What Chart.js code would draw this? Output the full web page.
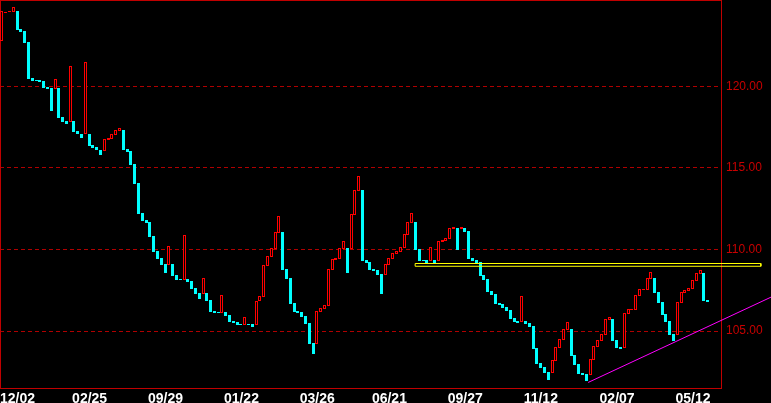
<!DOCTYPE html>
<html lang="en">
<head>
<meta charset="UTF-8">
<title>Price chart</title>
<style>
    * { margin: 0; padding: 0; box-sizing: border-box; }
    body { background: #000; width: 771px; height: 403px; overflow: hidden; }
    canvas { display: block; }
</style>
</head>
<body>
<canvas id="priceChart" width="771" height="403"></canvas>
<script src="https://cdn.jsdelivr.net/npm/chart.js"></script>
<script>
// open / close of every bar, left to right
const opens = [
    122.80, 124.52, 124.60, 124.57, 124.62, 123.51, 123.39, 122.72, 120.51, 120.40,
    120.39, 120.32, 119.96, 119.90, 119.85, 119.91, 118.12, 117.87, 117.83, 117.87,
    117.26, 117.08, 117.06, 117.09, 116.40, 116.28, 116.11, 116.03, 116.73, 116.79,
    117.03, 117.26, 117.32, 116.16, 116.03, 115.24, 114.07, 112.23, 111.80, 111.68,
    110.82, 109.90, 109.47, 109.11, 109.06, 109.11, 108.43, 108.19, 108.14, 108.19,
    108.06, 107.64, 107.33, 107.29, 107.33, 106.90, 106.23, 106.16, 106.12, 106.16,
    105.98, 105.61, 105.55, 105.45, 105.39, 105.45, 105.45, 105.39, 106.82, 107.10,
    109.00, 109.55, 110.05, 111.03, 111.07, 108.80, 108.27, 106.72, 106.23, 106.16,
    105.92, 105.49, 104.26, 104.22, 106.18, 106.37, 106.55, 108.76, 109.37, 109.43,
    110.05, 110.09, 110.05, 112.13, 113.60, 113.64, 109.35, 109.23, 108.82, 108.74,
    108.49, 108.45, 109.06, 109.43, 109.74, 109.86, 110.11, 110.90, 111.64, 111.68,
    110.03, 109.37, 109.35, 109.31, 109.35, 109.31, 110.47, 110.54, 110.66, 111.27,
    111.31, 111.27, 111.31, 111.13, 109.47, 109.35, 109.23, 108.43, 108.19, 107.45,
    107.27, 106.72, 106.65, 106.47, 106.29, 105.80, 105.61, 105.55, 105.61, 105.49,
    105.31, 103.96, 103.04, 102.79, 102.49, 102.42, 103.16, 103.96, 104.45, 105.06,
    105.12, 103.53, 102.98, 102.42, 102.36, 102.30, 103.22, 104.02, 104.39, 104.75,
    105.67, 105.74, 104.45, 104.02, 103.96, 106.04, 106.29, 106.29, 107.15, 107.51,
    107.51, 108.19, 108.25, 107.39, 106.78, 106.04, 105.61, 104.82, 104.75, 106.72,
    107.33, 107.45, 107.57, 108.07, 108.49, 108.56, 106.90
];
const closes = [
    124.62, 124.58, 124.64, 124.86, 123.47, 123.35, 122.67, 120.47, 120.34, 120.34,
    120.28, 119.91, 119.85, 118.49, 120.45, 118.07, 117.83, 117.71, 121.25, 117.22,
    117.06, 116.85, 121.47, 116.36, 116.24, 116.08, 115.81, 116.77, 116.83, 117.08,
    117.32, 117.44, 116.11, 115.97, 115.19, 114.03, 112.19, 111.76, 111.64, 110.78,
    109.86, 109.43, 109.06, 108.57, 110.21, 108.39, 108.14, 108.13, 110.88, 108.00,
    107.57, 107.29, 106.96, 108.25, 106.84, 106.16, 106.10, 106.12, 107.19, 105.94,
    105.57, 105.51, 105.39, 105.39, 105.86, 105.39, 105.26, 106.84, 107.15, 109.05,
    109.60, 110.09, 111.07, 112.05, 108.76, 108.21, 106.67, 106.18, 106.12, 105.88,
    105.45, 104.22, 103.61, 106.23, 106.41, 106.59, 108.80, 109.41, 109.47, 110.09,
    110.52, 108.57, 112.17, 113.64, 114.50, 109.31, 109.17, 108.76, 108.70, 108.45,
    107.27, 109.11, 109.47, 109.78, 109.90, 110.15, 110.95, 111.68, 112.23, 109.96,
    109.29, 109.31, 109.17, 110.15, 109.17, 110.52, 110.58, 110.70, 111.31, 111.37,
    109.96, 111.37, 111.07, 109.41, 109.29, 109.17, 108.37, 108.13, 107.39, 107.21,
    106.65, 106.59, 106.41, 106.23, 105.74, 105.55, 105.49, 107.15, 105.43, 105.25,
    103.90, 102.98, 102.73, 102.42, 101.99, 103.22, 104.02, 104.51, 105.12, 105.55,
    103.47, 102.92, 102.36, 102.30, 101.93, 103.28, 104.08, 104.45, 104.82, 105.74,
    105.86, 104.39, 103.96, 103.90, 106.10, 106.35, 106.35, 107.21, 107.57, 107.57,
    108.25, 108.62, 107.33, 106.72, 105.98, 105.55, 104.75, 104.39, 106.78, 107.39,
    107.51, 107.64, 108.13, 108.56, 108.74, 106.84, 106.78
];

// date labels under the chart and the bar each one starts at
const tickLabels = ['12/02', '02/25', '09/29', '01/22', '03/26', '06/21', '09/27', '11/12', '02/07', '05/12'];
const tickBars = [0, 19, 39, 59, 79, 98, 118, 138, 158, 178];

// price axis
const yTicks = [105, 110, 115, 120];
const yMin = 101.51;
const yMax = 125.29;
const barSlots = 190;

// yellow resistance band and magenta support line (bar index / price)
const bandX = [108.9, 200];
const bandTop = 109.14;
const bandBottom = 108.97;
const trendX = [154.5, 202.7];
const trendY = [101.85, 107.08];

const labelFont = "'Liberation Sans', Arial, sans-serif";

// red frame round the plot area
const frame = {
    id: 'frame',
    beforeDatasetsDraw(chart) {
        const { ctx, chartArea: a } = chart;
        ctx.save();
        ctx.strokeStyle = '#c00000';
        ctx.lineWidth = 1;
        ctx.strokeRect(a.left + 0.5, a.top + 0.5, a.right - a.left, a.bottom - a.top);
        ctx.restore();
    }
};

// snap bar edges to whole pixels so the thin boxes stay sharp
const snapBars = {
    id: 'snapBars',
    beforeDatasetDraw(chart, args) {
        if (args.meta.type !== 'bar') return;
        args.meta.data.forEach(el => {
            const half = el.width / 2;
            el.x = Math.round(el.x - half) + half;
            el.y = Math.round(el.y);
            el.base = Math.round(el.base);
            if (Math.abs(el.y - el.base) < 1) el.base = el.y + 1;
        });
    }
};

const isUp = i => closes[i] > opens[i];

const ctx = document.getElementById('priceChart').getContext('2d');
new Chart(ctx, {
    type: 'bar',
    data: {
        datasets: [
            {
                type: 'line',
                data: [
                    { x: bandX[0], y: bandTop }, { x: bandX[1], y: bandTop },
                    { x: bandX[1], y: bandBottom }, { x: bandX[0], y: bandBottom },
                    { x: bandX[0], y: bandTop }
                ],
                borderColor: '#ffff00',
                borderWidth: 1,
                pointRadius: 0,
                tension: 0,
                clip: false,
                order: 1
            },
            {
                type: 'line',
                data: trendX.map((x, i) => ({ x: x, y: trendY[i] })),
                borderColor: '#ff00ff',
                borderWidth: 1,
                pointRadius: 0,
                tension: 0,
                clip: false,
                order: 1
            },
            {
                type: 'bar',
                data: opens.map((o, i) => ({ x: i, y: [o, closes[i]] })),
                backgroundColor: opens.map((o, i) => isUp(i) ? '#000000' : '#00ffff'),
                borderColor: '#ff0000',
                borderWidth: opens.map((o, i) => isUp(i) ? 1 : 0),
                borderSkipped: false,
                barThickness: 3,
                inflateAmount: 0,
                order: 2
            }
        ]
    },
    options: {
        responsive: false,
        animation: false,
        events: [],
        layout: { padding: 0 },
        plugins: {
            legend: { display: false },
            tooltip: { enabled: false }
        },
        scales: {
            x: {
                type: 'linear',
                min: -0.5,
                max: barSlots - 0.5,
                offset: false,
                grid: { display: false, drawTicks: false, offset: false },
                border: { display: false },
                afterBuildTicks: s => { s.ticks = tickBars.map(b => ({ value: b - 0.5 })); },
                afterFit: s => { s.height = 15; s.paddingLeft = 0; s.paddingRight = 0; },
                ticks: {
                    autoSkip: false,
                    maxRotation: 0,
                    minRotation: 0,
                    align: 'start',
                    padding: 3,
                    color: '#ffffff',
                    font: { family: labelFont, size: 14, weight: 'bold' },
                    callback: (v, i) => tickLabels[i]
                }
            },
            y: {
                position: 'right',
                min: yMin,
                max: yMax,
                grid: { color: '#b00000', lineWidth: 1, drawTicks: false },
                border: { display: false, dash: [4, 3] },
                afterBuildTicks: s => { s.ticks = yTicks.map(v => ({ value: v })); },
                afterFit: s => { s.width = 50; s.paddingTop = 0; s.paddingBottom = 0; },
                ticks: {
                    padding: 5,
                    color: '#c80000',
                    font: { family: labelFont, size: 12 },
                    callback: v => v.toFixed(2)
                }
            }
        }
    },
    plugins: [frame, snapBars]
});
</script>
</body>
</html>
